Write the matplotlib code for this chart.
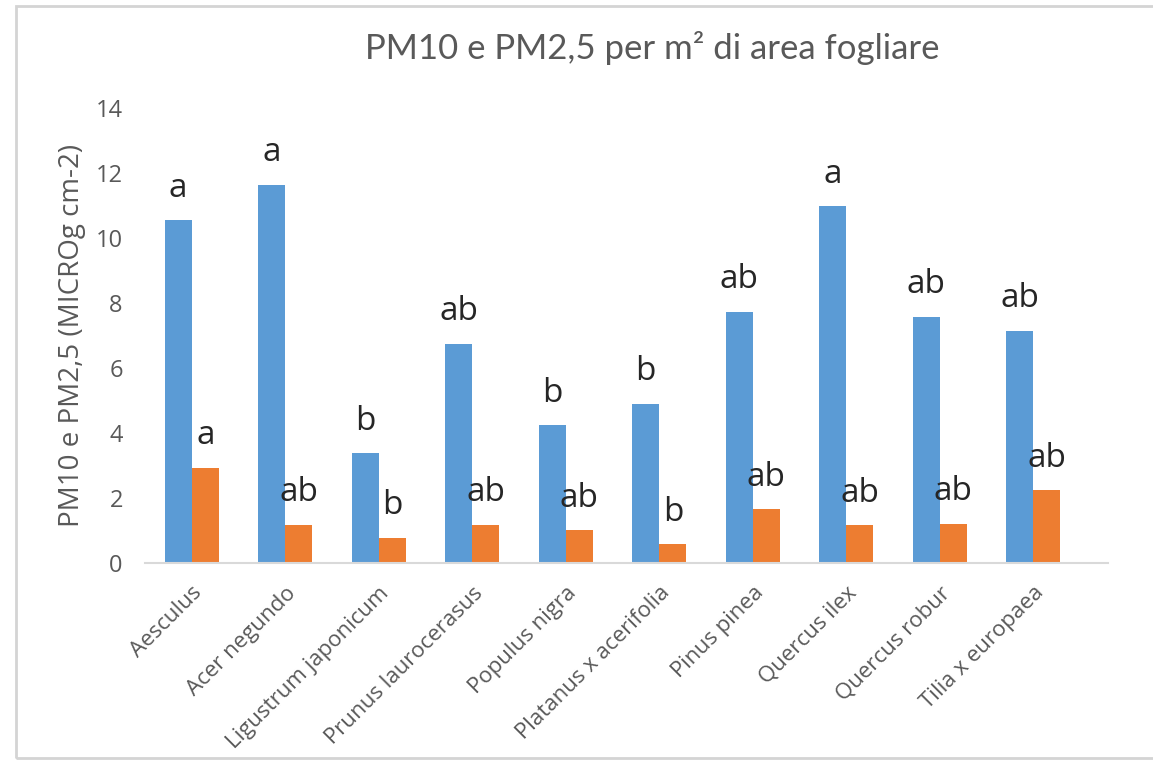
import matplotlib.pyplot as plt
import matplotlib.patches as mpatches
import numpy as np

plt.rcParams['font.family'] = ['Open Sans', 'DejaVu Sans']

# Species and particulate values per leaf area
species = ['Aesculus', 'Acer negundo', 'Ligustrum japonicum', 'Prunus laurocerasus',
           'Populus nigra', 'Platanus x acerifolia', 'Pinus pinea', 'Quercus ilex',
           'Quercus robur', 'Tilia x europaea']
pm10 = [10.55, 11.63, 3.37, 6.74, 4.24, 4.89, 7.73, 10.98, 7.58, 7.14]
pm25 = [2.93, 1.17, 0.78, 1.17, 1.01, 0.57, 1.65, 1.16, 1.21, 2.24]

# Significance letters above each bar
pm10_letters = ['a', 'a', 'b', 'ab', 'b', 'b', 'ab', 'a', 'ab', 'ab']
pm25_letters = ['a', 'ab', 'b', 'ab', 'ab', 'b', 'ab', 'ab', 'ab', 'ab']

blue = '#5B9BD5'
orange = '#ED7D31'
grey = '#595959'

fig = plt.figure(figsize=(11.53, 7.6), dpi=100)
ax = fig.add_axes([0.1258, 0.2592, 0.8352, 0.5987])

x = np.arange(len(species))
w = 0.29
b1 = ax.bar(x - w / 2, pm10, w, color=blue)
b2 = ax.bar(x + w / 2, pm25, w, color=orange)

for bars, letters in ((b1, pm10_letters), (b2, pm25_letters)):
    for rect, lab in zip(bars, letters):
        ax.annotate(lab, (rect.get_x() + rect.get_width() / 2, rect.get_height()),
                    xytext=(0, 17), textcoords='offset points',
                    ha='center', va='baseline', fontsize=24, color='#262626')

ax.set_ylim(0, 14)
ax.set_xlim(-0.5, 9.8)
ax.set_yticks(range(0, 15, 2))
ax.set_xticks(x)
ax.set_xticklabels(species, rotation=45, ha='right', rotation_mode='anchor')
ax.tick_params(axis='y', length=0, pad=16, labelsize=17, labelcolor=grey)
ax.tick_params(axis='x', length=0, pad=14, labelsize=16, labelcolor=grey)

for s in ('top', 'right', 'left'):
    ax.spines[s].set_visible(False)
ax.spines['bottom'].set_color('#d9d9d9')
ax.spines['bottom'].set_linewidth(1.5)

fig.text(0.5655, 0.937, 'PM10 e PM2,5 per m² di area fogliare', ha='center', va='center',
         family='Lato', fontsize=25, color=grey)
fig.text(0.0625, 0.558, 'PM10 e PM2,5 (MICROg cm-2)', rotation=90, ha='center', va='center',
         fontsize=20, color=grey)

# light frame around the chart area
fig.patches.append(mpatches.Rectangle((16 / 1153, 2 / 760), 1.0, 752 / 760,
                                      transform=fig.transFigure, fill=False,
                                      edgecolor='#d4d4d4', linewidth=2))

fig.savefig('out.png', dpi=100)
